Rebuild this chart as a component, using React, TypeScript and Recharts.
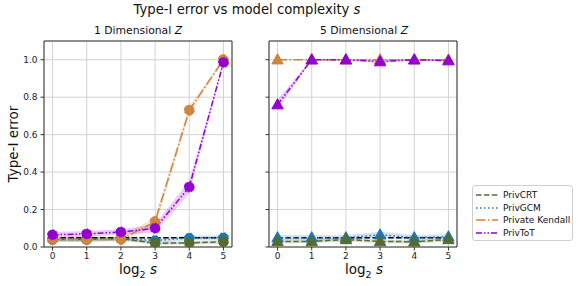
import React from 'react';
import {
  ComposedChart,
  Line,
  Area,
  XAxis,
  YAxis,
  CartesianGrid,
  ReferenceLine,
  ReferenceArea,
} from 'recharts';

const steps = [0, 1, 2, 3, 4, 5];
const yTicks = [0, 0.2, 0.4, 0.6, 0.8, 1.0];
const nominalLevel = 0.05;

// 1 dimensional Z
const crt1 = [0.04, 0.04, 0.045, 0.02, 0.022, 0.028];
const gcm1 = [0.04, 0.04, 0.045, 0.035, 0.048, 0.05];
const kendall1 = [0.04, 0.04, 0.04, 0.135, 0.73, 1.0];
const tot1 = [0.065, 0.07, 0.08, 0.1, 0.32, 0.985];
const crtErr1 = [0.01, 0.01, 0.01, 0.008, 0.008, 0.01];
const gcmErr1 = [0.012, 0.012, 0.012, 0.012, 0.013, 0.013];
const kendallErr1 = [0.01, 0.01, 0.01, 0.03, 0.025, 0.005];
const totErr1 = [0.015, 0.015, 0.015, 0.022, 0.035, 0.008];

// 5 dimensional Z
const crt5 = [0.03, 0.03, 0.04, 0.03, 0.028, 0.04];
const gcm5 = [0.05, 0.05, 0.05, 0.065, 0.05, 0.055];
const kendall5 = [1.0, 1.0, 1.0, 1.0, 1.0, 1.0];
const tot5 = [0.76, 1.0, 1.0, 0.99, 1.0, 0.995];
const crtErr5 = [0.01, 0.01, 0.01, 0.01, 0.01, 0.01];
const gcmErr5 = [0.014, 0.014, 0.014, 0.016, 0.014, 0.014];
const kendallErr5 = [0.003, 0.003, 0.003, 0.003, 0.003, 0.003];
const totErr5 = [0.028, 0.004, 0.004, 0.008, 0.004, 0.005];

const series = [
  { key: 'crt', name: 'PrivCRT', color: '#556B2F', dash: '5.5 2.4' },
  { key: 'gcm', name: 'PrivGCM', color: '#1f77b4', dash: '1.5 2.5' },
  { key: 'kendall', name: 'Private Kendall', color: '#CD853F', dash: '9.6 2.4 1.5 2.4' },
  { key: 'tot', name: 'PrivToT', color: '#9400D3', dash: '6 2 1.5 2 1.5 2' },
];
// drawing order: GCM under CRT
const drawOrder = [series[1], series[0], series[2], series[3]];

const makeRows = (vals: number[][], errs: number[][]) =>
  steps.map((x, i) => {
    const row: any = { x };
    series.forEach((s, j) => {
      row[s.key] = vals[j][i];
      row[s.key + 'Band'] = [vals[j][i] - errs[j][i], vals[j][i] + errs[j][i]];
    });
    return row;
  });

const rows1 = makeRows([crt1, gcm1, kendall1, tot1], [crtErr1, gcmErr1, kendallErr1, totErr1]);
const rows5 = makeRows([crt5, gcm5, kendall5, tot5], [crtErr5, gcmErr5, kendallErr5, totErr5]);

const font = '"DejaVu Sans", sans-serif';

const triangle = (color: string) => (props: any) => {
  const { cx, cy, index } = props;
  if (cx == null || cy == null) return <g key={index} />;
  const r = 6;
  return (
    <polygon
      key={index}
      points={`${cx},${cy - r} ${cx - r * 0.95},${cy + r * 0.7} ${cx + r * 0.95},${cy + r * 0.7}`}
      fill={color}
      stroke={color}
    />
  );
};

function Panel({ data, marker, labels }: { data: any[]; marker: 'circle' | 'triangle'; labels: boolean }) {
  return (
    <ComposedChart width={240} height={286} data={data} margin={{ top: 41, right: 8, bottom: 0, left: 0 }}>
      <CartesianGrid stroke="#d3d3d3" strokeWidth={1} />
      <XAxis
        dataKey="x"
        type="number"
        domain={[-0.25, 5.25]}
        ticks={steps}
        allowDataOverflow
        height={39}
        axisLine={false}
        tickSize={3.5}
        tickMargin={2}
        tickLine={{ stroke: '#333' }}
        tick={{ fontSize: 9, fill: '#222', fontFamily: font }}
      />
      <YAxis
        type="number"
        domain={[0, 1.1]}
        ticks={yTicks}
        allowDataOverflow
        width={44}
        axisLine={false}
        tickSize={3.5}
        tickMargin={3}
        tickLine={{ stroke: '#333' }}
        tickFormatter={(v: number) => (labels ? v.toFixed(1) : '')}
        tick={{ fontSize: 9, fill: '#222', fontFamily: font }}
      />
      {drawOrder.map((s) => (
        <Area
          key={s.key + 'Band'}
          dataKey={s.key + 'Band'}
          type="linear"
          fill={s.color}
          fillOpacity={0.2}
          stroke="none"
          isAnimationActive={false}
          activeDot={false}
        />
      ))}
      <ReferenceLine
        segment={[
          { x: 0, y: nominalLevel },
          { x: 5, y: nominalLevel },
        ]}
        stroke="#000"
        strokeWidth={1.5}
        strokeDasharray="5.5 2.4"
      />
      {drawOrder.map((s) => (
        <Line
          key={s.key}
          dataKey={s.key}
          name={s.name}
          type="linear"
          stroke={s.color}
          strokeWidth={1.5}
          strokeDasharray={s.dash}
          dot={marker === 'circle' ? { r: 5, fill: s.color, stroke: s.color, strokeWidth: 1 } : triangle(s.color)}
          activeDot={false}
          isAnimationActive={false}
        />
      ))}
      <ReferenceArea x1={-0.25} x2={5.25} y1={0} y2={1.1} fill="none" stroke="#333" strokeWidth={1} ifOverflow="visible" />
    </ComposedChart>
  );
}

export default function App() {
  return (
    <div style={{ position: 'absolute', left: 0, top: 0, width: 581, height: 286, background: '#fff', fontFamily: font, color: '#111' }}>
      <div style={{ position: 'absolute', left: 0, top: 0 }}>
        <Panel data={rows1} marker="circle" labels />
      </div>
      <div style={{ position: 'absolute', left: 225, top: 0 }}>
        <Panel data={rows5} marker="triangle" labels={false} />
      </div>
      <div style={{ position: 'absolute', left: 47, width: 400, top: 2, textAlign: 'center', fontSize: 13.2 }}>
        Type-I error vs model complexity <i>s</i>
      </div>
      <div style={{ position: 'absolute', left: 38, width: 200, top: 24, textAlign: 'center', fontSize: 10.8 }}>
        1 Dimensional <i>Z</i>
      </div>
      <div style={{ position: 'absolute', left: 264, width: 200, top: 24, textAlign: 'center', fontSize: 10.8 }}>
        5 Dimensional <i>Z</i>
      </div>
      <div
        style={{
          position: 'absolute',
          left: 13,
          top: 144,
          fontSize: 13.5,
          whiteSpace: 'nowrap',
          transform: 'translate(-50%, -50%) rotate(-90deg)',
        }}
      >
        Type-I error
      </div>
      {[138, 364].map((cx) => (
        <div key={cx} style={{ position: 'absolute', left: cx - 50, width: 100, top: 261, textAlign: 'center', fontSize: 13.5 }}>
          log<sub style={{ fontSize: 9.5 }}>2</sub> <i>s</i>
        </div>
      ))}
      <div
        style={{
          position: 'absolute',
          left: 472,
          top: 185,
          width: 101,
          height: 56,
          border: '1px solid #d0d0d0',
          borderRadius: 3,
          boxSizing: 'border-box',
          fontSize: 9,
        }}
      >
        {series.map((s, i) => (
          <div key={s.key} style={{ position: 'absolute', left: 3, top: 3 + i * 12.7, height: 12, display: 'flex', alignItems: 'center', whiteSpace: 'nowrap' }}>
            <svg width={22} height={12}>
              <line x1={0} y1={6} x2={22} y2={6} stroke={s.color} strokeWidth={1.5} strokeDasharray={s.dash} />
            </svg>
            <span style={{ marginLeft: 5 }}>{s.name}</span>
          </div>
        ))}
      </div>
    </div>
  );
}
